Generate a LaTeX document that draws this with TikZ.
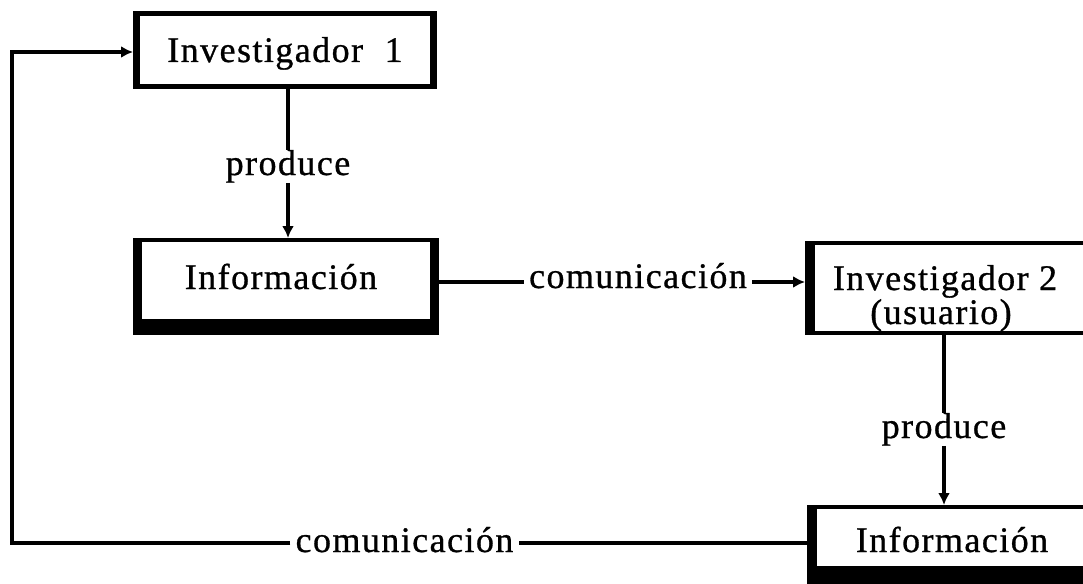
\documentclass[tikz,border=0pt]{standalone}
\usepackage{fontspec}
\setmainfont[LetterSpace=4,FakeBold=0.8]{Liberation Serif}
\usetikzlibrary{arrows.meta,calc}
\begin{document}
\begin{tikzpicture}[x=1pt,y=-1pt,
  conn/.style={line width=3.6pt},
  tip/.style={-{Latex[length=12pt,width=12pt]}},
  boxshape/.style={rectangle, fill=black, inner sep=0pt, outer sep=0pt},
  txt/.style={font=\fontsize{36}{40}\selectfont, inner sep=0pt, anchor=base},
  lbl/.style={font=\fontsize{36}{40}\selectfont, inner xsep=5pt, inner ysep=0pt, fill=white, anchor=base}
]
\clip (0,0) rectangle (1083,583);
\fill[white] (0,0) rectangle (1083,583);

% boxes
\node[boxshape, minimum width=304pt, minimum height=78pt] (inv1) at (285,50) {};
\fill[white] ($(inv1.north west)+(7,5)$) rectangle ($(inv1.south east)+(-7,-5)$);

\node[boxshape, minimum width=306pt, minimum height=97pt] (info1) at (286,286.5) {};
\fill[white] ($(info1.north west)+(9,4)$) rectangle ($(info1.south east)+(-9,-16)$);

\node[boxshape, minimum width=305pt, minimum height=94pt] (inv2) at (957.5,288) {};
\fill[white] ($(inv2.north west)+(10,4)$) rectangle ($(inv2.south east)+(-10,-4)$);

\node[boxshape, minimum width=303pt, minimum height=95pt] (info2) at (958.5,552.5) {};
\fill[white] ($(info2.north west)+(10,4)$) rectangle ($(info2.south east)+(-10,-34)$);

% box texts
\node[txt] (t1) at (285,62) {Investigador\hspace{0.6em}1};
\node[txt] (t2) at (281,289) {Información};
\node[txt] (t3) at (945,290) {Investigador 2};
\node[txt] (t4) at (941,324) {(usuario)};
\node[txt] (t5) at (952,552) {Información};

% labels
\node[lbl] (prod1) at (288,175) {produce};
\node[lbl] (prod2) at (944,438) {produce};
\node[lbl] (com1) at (638,288) {comunicación};
\node[lbl] (com2) at (404.5,552) {comunicación};
\coordinate (c1) at ($(com1.base)+(0,-6)$);
\coordinate (c2) at ($(com2.base)+(0,-9)$);
\coordinate (corner) at (12,52);

% connectors
\draw[conn] (inv1.south -| prod1) -- (prod1);
\draw[conn,tip] (prod1) -- (info1.north -| prod1);
\draw[conn] (info1.east |- c1) -- (com1.west |- c1);
\draw[conn,tip] (com1.east |- c1) -- (inv2.west |- c1);
\draw[conn] (inv2.south -| prod2) -- (prod2);
\draw[conn,tip] (prod2) -- (info2.north -| prod2);
\draw[conn] (info2.west |- c2) -- (com2.east |- c2);
\draw[conn,tip] (com2.west |- c2) -| (corner) -- (inv1.west |- corner);
\end{tikzpicture}
\end{document}
